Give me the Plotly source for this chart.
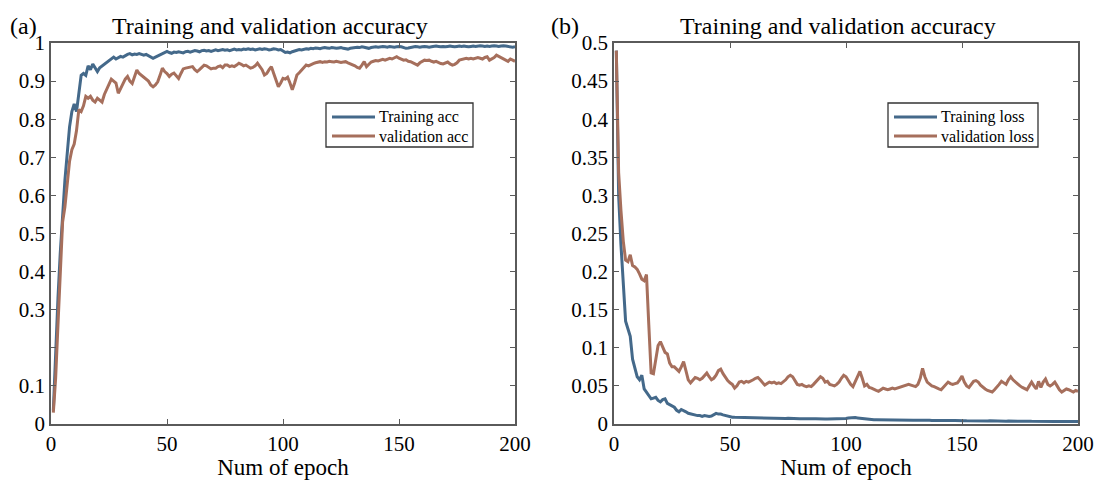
import plotly.graph_objects as go

epochs = list(range(1, 201))

train_acc = [
    0.035, 0.20, 0.33, 0.45, 0.56, 0.64, 0.71, 0.78, 0.82, 0.84,
    0.82, 0.87, 0.915, 0.92, 0.915, 0.94, 0.93, 0.945, 0.935, 0.925,
    0.935, 0.94, 0.945, 0.948, 0.955, 0.958, 0.963, 0.958, 0.962, 0.965,
    0.963, 0.967, 0.97, 0.972, 0.969, 0.971, 0.97, 0.972, 0.97, 0.968,
    0.97, 0.966, 0.962, 0.96, 0.963, 0.966, 0.968, 0.972, 0.975, 0.978,
    0.975, 0.973, 0.976, 0.975, 0.977, 0.976, 0.974, 0.977, 0.978, 0.976,
    0.978, 0.98, 0.979, 0.977, 0.98, 0.981, 0.979, 0.98, 0.978, 0.981,
    0.982, 0.98, 0.981, 0.983, 0.981, 0.982, 0.98, 0.983, 0.984, 0.982,
    0.983, 0.982, 0.984, 0.983, 0.985, 0.983, 0.984, 0.982, 0.984, 0.985,
    0.983, 0.985, 0.984, 0.982, 0.983, 0.985, 0.984, 0.982, 0.983, 0.98,
    0.975, 0.976, 0.974, 0.977, 0.979, 0.981, 0.983, 0.982, 0.984, 0.985,
    0.984, 0.986, 0.985, 0.987, 0.986, 0.985, 0.987, 0.988, 0.987, 0.986,
    0.988, 0.987, 0.986, 0.987, 0.988, 0.986, 0.985, 0.984, 0.986, 0.987,
    0.988, 0.989, 0.988, 0.99, 0.989, 0.987, 0.986, 0.988, 0.989, 0.99,
    0.989, 0.99, 0.991, 0.99, 0.989, 0.991, 0.99, 0.989, 0.99, 0.991,
    0.99, 0.988, 0.986, 0.987, 0.989, 0.99, 0.991, 0.99, 0.989, 0.99,
    0.991, 0.99, 0.989, 0.99, 0.991, 0.992, 0.991, 0.99, 0.991, 0.99,
    0.991, 0.992, 0.991, 0.99, 0.991, 0.992, 0.991, 0.992, 0.991, 0.99,
    0.991, 0.992, 0.991, 0.992, 0.993, 0.992, 0.991, 0.992, 0.991, 0.992,
    0.993, 0.992, 0.991, 0.992, 0.993, 0.992, 0.991, 0.99, 0.989, 0.99,
]

val_acc = [
    0.03, 0.12, 0.26, 0.42, 0.53, 0.57, 0.63, 0.69, 0.72, 0.735,
    0.77, 0.825, 0.82, 0.835, 0.86, 0.855, 0.86, 0.85, 0.845, 0.855,
    0.85, 0.845, 0.865, 0.88, 0.89, 0.905, 0.9, 0.895, 0.868, 0.88,
    0.895, 0.905, 0.912, 0.9, 0.894, 0.91, 0.929, 0.92, 0.915, 0.91,
    0.907, 0.9, 0.89, 0.885, 0.89, 0.898, 0.915, 0.934, 0.925, 0.92,
    0.912, 0.918, 0.921, 0.915, 0.907, 0.92, 0.932, 0.934, 0.936, 0.938,
    0.938, 0.93, 0.925, 0.93, 0.936, 0.942, 0.94, 0.935, 0.932, 0.934,
    0.934, 0.938, 0.94, 0.935, 0.942, 0.942, 0.938, 0.94, 0.938, 0.942,
    0.947, 0.944, 0.94, 0.942, 0.938, 0.934, 0.936, 0.94, 0.947, 0.94,
    0.93, 0.916, 0.92, 0.93, 0.938, 0.92, 0.9, 0.885, 0.895, 0.907,
    0.905, 0.91, 0.895, 0.877, 0.895, 0.916, 0.922, 0.929, 0.935, 0.942,
    0.94, 0.944, 0.946, 0.948, 0.95, 0.951, 0.949, 0.951, 0.95, 0.952,
    0.951, 0.95, 0.952, 0.951, 0.949, 0.95, 0.951, 0.948, 0.946, 0.944,
    0.94, 0.936, 0.934, 0.942, 0.951, 0.938, 0.945, 0.95, 0.952, 0.954,
    0.953, 0.955, 0.957, 0.955, 0.958, 0.96, 0.958, 0.962, 0.964, 0.96,
    0.958, 0.955, 0.956, 0.952, 0.951, 0.948, 0.945, 0.942, 0.948, 0.952,
    0.955, 0.954, 0.955, 0.952, 0.95, 0.952, 0.948, 0.946, 0.945, 0.948,
    0.95, 0.945, 0.942, 0.944, 0.948, 0.955, 0.957, 0.958, 0.96, 0.958,
    0.96, 0.958, 0.96, 0.962, 0.96, 0.958, 0.962, 0.964, 0.955, 0.958,
    0.962, 0.968, 0.965, 0.962, 0.958, 0.956, 0.952, 0.958, 0.955, 0.952,
]

train_loss = [
    0.49, 0.30, 0.235, 0.18, 0.135, 0.125, 0.115, 0.085, 0.072, 0.062,
    0.058, 0.064, 0.046, 0.042, 0.038, 0.033, 0.034, 0.035, 0.031, 0.029,
    0.032, 0.033, 0.027, 0.025, 0.024, 0.022, 0.018, 0.016, 0.019, 0.018,
    0.016, 0.014, 0.013, 0.012, 0.012, 0.011, 0.011, 0.010, 0.011, 0.0105,
    0.010, 0.0105, 0.012, 0.014, 0.013, 0.013, 0.012, 0.011, 0.0105, 0.009,
    0.009, 0.0088, 0.0087, 0.0085, 0.0086, 0.0088, 0.009, 0.0087, 0.0085, 0.0083,
    0.008, 0.0082, 0.0079, 0.0077, 0.0075, 0.0074, 0.0072, 0.0073, 0.0075, 0.0072,
    0.007, 0.0072, 0.0071, 0.0073, 0.0075, 0.0072, 0.007, 0.0074, 0.0073, 0.007,
    0.0068, 0.007, 0.0069, 0.0067, 0.0068, 0.007, 0.0069, 0.0066, 0.0067, 0.0065,
    0.0066, 0.0064, 0.0065, 0.0066, 0.0064, 0.0063, 0.0065, 0.0064, 0.0068, 0.0072,
    0.0078, 0.0082, 0.0085, 0.0084, 0.008, 0.0076, 0.007, 0.0065, 0.006, 0.0058,
    0.0057, 0.0056, 0.0055, 0.0054, 0.0053, 0.0054, 0.0052, 0.005, 0.0051, 0.005,
    0.0049, 0.005, 0.0048, 0.0047, 0.0048, 0.0047, 0.0046, 0.0047, 0.0048, 0.0049,
    0.005, 0.0052, 0.0054, 0.0055, 0.0052, 0.0048, 0.0045, 0.0044, 0.0043, 0.0042,
    0.0043, 0.0044, 0.0042, 0.0041, 0.0043, 0.0045, 0.0047, 0.0048, 0.0046, 0.0044,
    0.0043, 0.0042, 0.0041, 0.004, 0.0042, 0.0043, 0.0041, 0.004, 0.0039, 0.004,
    0.0041, 0.0042, 0.004, 0.0039, 0.0038, 0.0039, 0.004, 0.0038, 0.0037, 0.0038,
    0.0039, 0.0037, 0.0036, 0.0037, 0.0038, 0.0036, 0.0035, 0.0036, 0.0037, 0.0035,
    0.0034, 0.0036, 0.0035, 0.0034, 0.0033, 0.0035, 0.0036, 0.0034, 0.0033, 0.0032,
    0.0034, 0.0033, 0.0032, 0.0031, 0.0033, 0.0032, 0.0031, 0.003, 0.0032, 0.0033,
]

val_loss = [
    0.49, 0.33, 0.28, 0.24, 0.215, 0.213, 0.222, 0.208, 0.206, 0.203,
    0.197, 0.19, 0.188, 0.196, 0.13, 0.067, 0.066, 0.085, 0.103, 0.108,
    0.10, 0.094, 0.092, 0.08, 0.075, 0.075, 0.072, 0.069, 0.075, 0.082,
    0.07, 0.058, 0.054, 0.058, 0.061, 0.06, 0.058, 0.06, 0.064, 0.067,
    0.062, 0.058, 0.06, 0.064, 0.07, 0.072, 0.066, 0.061, 0.057, 0.054,
    0.052, 0.047, 0.05, 0.055, 0.056, 0.054, 0.056, 0.055, 0.056, 0.058,
    0.06, 0.061, 0.058, 0.054, 0.051, 0.053, 0.055, 0.054, 0.055, 0.053,
    0.054, 0.053, 0.055, 0.058, 0.062, 0.064, 0.062, 0.056, 0.052, 0.051,
    0.052, 0.05, 0.049, 0.05, 0.049, 0.052, 0.055, 0.058, 0.062, 0.06,
    0.055, 0.056, 0.052, 0.051, 0.05, 0.052, 0.055, 0.06, 0.064, 0.062,
    0.056, 0.052, 0.049, 0.055, 0.062, 0.069, 0.06, 0.05, 0.052, 0.048,
    0.047, 0.045, 0.044, 0.043, 0.045, 0.047, 0.046, 0.045, 0.046, 0.047,
    0.046, 0.047, 0.048, 0.049, 0.05, 0.051, 0.052, 0.051, 0.05, 0.049,
    0.052, 0.06, 0.073, 0.062, 0.055, 0.052, 0.05, 0.049, 0.047, 0.046,
    0.045, 0.048, 0.052, 0.055, 0.053, 0.052, 0.053, 0.054, 0.058, 0.063,
    0.055, 0.05, 0.048, 0.052, 0.056, 0.057, 0.055, 0.051, 0.048, 0.046,
    0.044, 0.043, 0.042, 0.045, 0.048, 0.052, 0.056, 0.054, 0.052, 0.058,
    0.062, 0.058, 0.055, 0.052, 0.05, 0.048, 0.046, 0.045, 0.05, 0.055,
    0.05, 0.046, 0.056, 0.048, 0.055, 0.059, 0.052, 0.05, 0.052, 0.055,
    0.05, 0.045, 0.042, 0.044, 0.046, 0.045, 0.043, 0.042, 0.044, 0.043,
]

acc_ticks = [0, 0.1, 0.2, 0.3, 0.4, 0.5, 0.6, 0.7, 0.8, 0.9, 1]
acc_tick_labels = ["0", "0.1", "", "0.3", "0.4", "0.5", "0.6", "0.7", "0.8", "0.9", "1"]
loss_ticks = [0, 0.05, 0.1, 0.15, 0.2, 0.25, 0.3, 0.35, 0.4, 0.45, 0.5]
loss_tick_labels = ["0", "0.05", "0.1", "0.15", "0.2", "0.25", "0.3", "0.35", "0.4", "0.45", "0.5"]
epoch_ticks = [0, 50, 100, 150, 200]
legend_acc = ["Training acc", "validation acc"]
legend_loss = ["Training loss", "validation loss"]
title_text = "Training and validation accuracy"
x_title = "Num of epoch"
panel_labels = ["(a)", "(b)"]

BLUE = "#44698a"
BROWN = "#a66f5c"
SERIF = "Liberation Serif, Times New Roman, serif"
AXC = "#5a5a5a"

W, H = 1097, 480
L1, R1 = 51, 515
L2, R2 = 614, 1078
TOP, BOT = 43, 424

fig = go.Figure()
fig.add_trace(go.Scatter(x=epochs, y=train_acc, mode="lines", name=legend_acc[0],
                         line=dict(color=BLUE, width=3), xaxis="x", yaxis="y"))
fig.add_trace(go.Scatter(x=epochs, y=val_acc, mode="lines", name=legend_acc[1],
                         line=dict(color=BROWN, width=3), xaxis="x", yaxis="y"))
fig.add_trace(go.Scatter(x=epochs, y=train_loss, mode="lines", name=legend_loss[0],
                         line=dict(color=BLUE, width=3), xaxis="x2", yaxis="y2"))
fig.add_trace(go.Scatter(x=epochs, y=val_loss, mode="lines", name=legend_loss[1],
                         line=dict(color=BROWN, width=3), xaxis="x2", yaxis="y2"))

common_ax = dict(showline=True, linecolor=AXC, linewidth=1.5, mirror="ticks",
                 ticks="inside", ticklen=5, tickwidth=1.2, tickcolor=AXC,
                 showgrid=False, zeroline=False, automargin=False,
                 tickfont=dict(family=SERIF, size=21, color="black"))

ydom = [(H - BOT) / H, (H - TOP) / H]
xtitle = dict(text=x_title, font=dict(family=SERIF, size=23), standoff=3)
fig.update_layout(
    width=W, height=H,
    margin=dict(l=0, r=0, t=0, b=0),
    paper_bgcolor="white", plot_bgcolor="white",
    font=dict(family=SERIF, color="black"),
    showlegend=False,
    xaxis=dict(domain=[L1 / W, R1 / W], range=[0, 200], tickvals=epoch_ticks,
               title=xtitle, anchor="y", **common_ax),
    yaxis=dict(domain=ydom, range=[0, 1], tickvals=acc_ticks, ticktext=acc_tick_labels,
               anchor="x", **common_ax),
    xaxis2=dict(domain=[L2 / W, R2 / W], range=[0, 200], tickvals=epoch_ticks,
                title=xtitle, anchor="y2", **common_ax),
    yaxis2=dict(domain=ydom, range=[0, 0.5], tickvals=loss_ticks, ticktext=loss_tick_labels,
                anchor="x2", **common_ax),
)

def px_x(x):
    return x / W

def px_y(y):
    return (H - y) / H

# titles and panel labels
for txt, cx in [(title_text, 270), (title_text, 838), (panel_labels[0], 23), (panel_labels[1], 565)]:
    fig.add_annotation(text=txt, x=px_x(cx), y=px_y(26), xref="paper", yref="paper",
                       xanchor="center", yanchor="middle", showarrow=False,
                       font=dict(family=SERIF, size=24, color="black"))

# legend boxes (drawn in paper coordinates)
for names, bx in [(legend_acc, 326), (legend_loss, 888)]:
    bw = 147 if bx == 326 else 150
    fig.add_shape(type="rect", xref="paper", yref="paper",
                  x0=px_x(bx), x1=px_x(bx + bw), y0=px_y(147), y1=px_y(103),
                  line=dict(color="#333333", width=1.3), fillcolor="white", layer="above")
    for i, (nm, col) in enumerate(zip(names, [BLUE, BROWN])):
        yy = 117 + 19 * i
        fig.add_shape(type="line", xref="paper", yref="paper",
                      x0=px_x(bx + 6), x1=px_x(bx + 49), y0=px_y(yy), y1=px_y(yy),
                      line=dict(color=col, width=3), layer="above")
        fig.add_annotation(text=nm, x=px_x(bx + 51), y=px_y(yy), xref="paper", yref="paper",
                           xanchor="left", yanchor="middle", showarrow=False,
                           font=dict(family=SERIF, size=16, color="black"))

fig.write_html("out.html")
